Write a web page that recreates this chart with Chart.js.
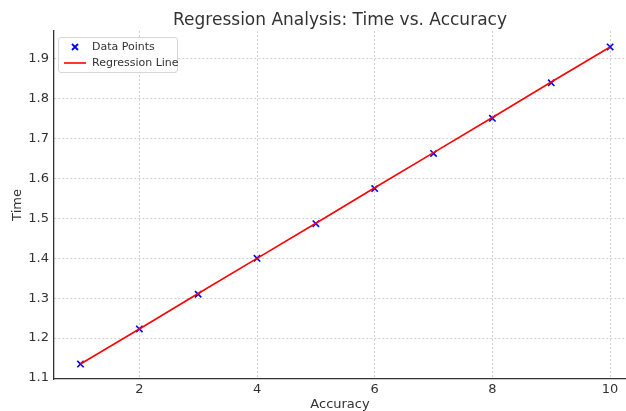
<!DOCTYPE html>
<html>
<head>
<meta charset="utf-8">
<script src="https://cdn.jsdelivr.net/npm/chart.js@4/dist/chart.umd.min.js"></script>
<style>
    html, body { margin: 0; padding: 0; background: #fff; }
    #wrap { position: relative; width: 626px; height: 411px; }
    #chart { display: block; }
    .legend {
        position: absolute; left: 58px; top: 37px; width: 118px; height: 34px;
        background: rgba(255,255,255,0.85); border: 1px solid #d6d6d6; border-radius: 3px;
        font-family: "DejaVu Sans", sans-serif; font-size: 11px; color: #333;
    }
    .legend .row { position: absolute; left: 0; height: 14px; line-height: 14px; }
    .legend svg { position: absolute; left: 4px; top: 0; }
    .legend span { position: absolute; left: 33px; white-space: nowrap; }
</style>
</head>
<body>
<div id="wrap">
    <canvas id="chart" width="626" height="411"></canvas>
    <div class="legend">
        <div class="row" style="top:2px">
            <svg width="24" height="14"><path d="M9 4 L15 10 M15 4 L9 10" stroke="#0000ff" stroke-width="1.8"/></svg>
            <span>Data Points</span>
        </div>
        <div class="row" style="top:18px">
            <svg width="24" height="14"><path d="M1 7 L23 7" stroke="#ff0000" stroke-width="1.6"/></svg>
            <span>Regression Line</span>
        </div>
    </div>
</div>
<script>
// =========================================================
// Data
// =========================================================

const accuracy   = [1, 2, 3, 4, 5, 6, 7, 8, 9, 10];
const timeValues = [1.135, 1.223, 1.310, 1.400, 1.487, 1.575, 1.663, 1.751, 1.840, 1.930];
const fitValues  = [1.135, 1.223, 1.312, 1.400, 1.488, 1.577, 1.665, 1.753, 1.842, 1.930];
const xTicks     = [2, 4, 6, 8, 10];
const yTicks     = [1.1, 1.2, 1.3, 1.4, 1.5, 1.6, 1.7, 1.8, 1.9];

const FONT  = '"DejaVu Sans", sans-serif';
const INK   = '#333333';
const GRID  = '#cfcfcf';

const toPoints = (xs, ys) => xs.map((x, i) => ({ x, y: ys[i] }));

// =========================================================
// Chart
// =========================================================

const ctx = document.getElementById('chart').getContext('2d');

new Chart(ctx, {
    type: 'scatter',
    data: {
        datasets: [
            {
                label: 'Regression Line',
                type: 'line',
                data: toPoints(accuracy, fitValues),
                borderColor: '#ff0000',
                borderWidth: 1.6,
                pointRadius: 0,
                fill: false,
                tension: 0,
                order: 0,
            },
            {
                label: 'Data Points',
                data: toPoints(accuracy, timeValues),
                pointStyle: 'crossRot',
                pointRadius: 4.5,
                borderColor: '#0000ff',
                backgroundColor: '#0000ff',
                borderWidth: 1.6,
                order: 1,
            },
        ],
    },
    options: {
        responsive: false,
        animation: false,
        layout: { padding: 0, autoPadding: false },
        plugins: {
            legend: { display: false },
            tooltip: { enabled: false },
            title: {
                display: true,
                fullSize: false,
                text: 'Regression Analysis: Time vs. Accuracy',
                color: INK,
                font: { family: FONT, size: 17, weight: 'normal' },
                padding: { top: 10.6, bottom: 0 },
            },
        },
        scales: {
            x: {
                type: 'linear',
                min: 0.55,
                max: 10.27,
                afterBuildTicks: s => { s.ticks = xTicks.map(v => ({ value: v })); },
                afterFit: s => { s.height = 32; s.paddingRight = 0; s.paddingLeft = 0; },
                grid: { color: GRID, drawTicks: false },
                border: { color: INK, width: 1.3, dash: [2, 2] },
                ticks: { color: INK, font: { family: FONT, size: 13 }, padding: 3 },
                title: {
                    display: true, text: 'Accuracy', color: INK,
                    font: { family: FONT, size: 13 }, padding: { top: 0, bottom: -1 },
                },
            },
            y: {
                min: 1.0975,
                max: 1.97,
                afterBuildTicks: s => { s.ticks = yTicks.map(v => ({ value: v })); },
                afterFit: s => { s.width = 54; s.paddingTop = 0; s.paddingBottom = 0; },
                grid: { color: GRID, drawTicks: false },
                border: { color: INK, width: 1.3, dash: [2, 2] },
                ticks: {
                    color: INK, font: { family: FONT, size: 13 }, padding: 5,
                    callback: v => v.toFixed(1),
                },
                title: {
                    display: true, text: 'Time', color: INK,
                    font: { family: FONT, size: 13 }, padding: { top: 10, bottom: 0 },
                },
            },
        },
    },
});
</script>
</body>
</html>
